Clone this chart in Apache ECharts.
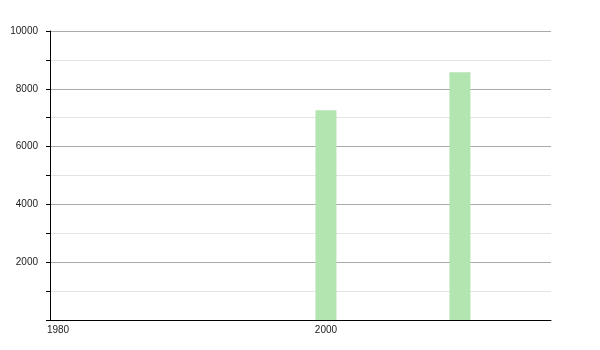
<!DOCTYPE html>
<html>
<head>
<meta charset="utf-8">
<script src="https://cdn.jsdelivr.net/npm/echarts@6/dist/echarts.min.js"></script>
<style>html,body{margin:0;padding:0;background:#fff;}#c{width:600px;height:350px;}</style>
</head>
<body>
<div id="c"></div>
<script>
var years = [2000, 2010];
var values = [7260, 8570];
var xTickLabels = [1980, 2000];
var yLabelValues = [2000, 4000, 6000, 8000, 10000];

var chart = echarts.init(document.getElementById('c'), null, {renderer: 'canvas'});
var font = '"Liberation Sans", Arial, sans-serif';
chart.setOption({
  animation: false,
  grid: {left: 50, right: 49, top: 31, bottom: 30, containLabel: false},
  xAxis: {
    type: 'value',
    min: 1979.4,
    max: 2016.8,
    axisLine: {show: true, lineStyle: {color: '#000', width: 1}},
    axisTick: {show: false},
    splitLine: {show: false},
    axisLabel: {
      customValues: xTickLabels,
      color: '#222',
      fontSize: 10,
      fontFamily: font,
      margin: 5,
      formatter: function (v) { return String(v); }
    }
  },
  yAxis: {
    type: 'value',
    min: 0,
    max: 10000,
    interval: 1000,
    axisLine: {show: true, lineStyle: {color: '#000', width: 1}},
    axisTick: {show: true, length: 4, lineStyle: {color: '#000'}},
    splitLine: {show: true, lineStyle: {color: ['#aaaaaa', '#e4e4e4'], width: 1}},
    axisLabel: {
      color: '#222',
      fontSize: 10,
      fontFamily: font,
      margin: 12,
      formatter: function (v) { return yLabelValues.indexOf(v) >= 0 ? String(v) : ''; }
    }
  },
  series: [{
    type: 'bar',
    barWidth: 21,
    itemStyle: {color: '#b3e5b0'},
    data: years.map(function (y, i) { return [y, values[i]]; })
  }]
});
</script>
</body>
</html>
